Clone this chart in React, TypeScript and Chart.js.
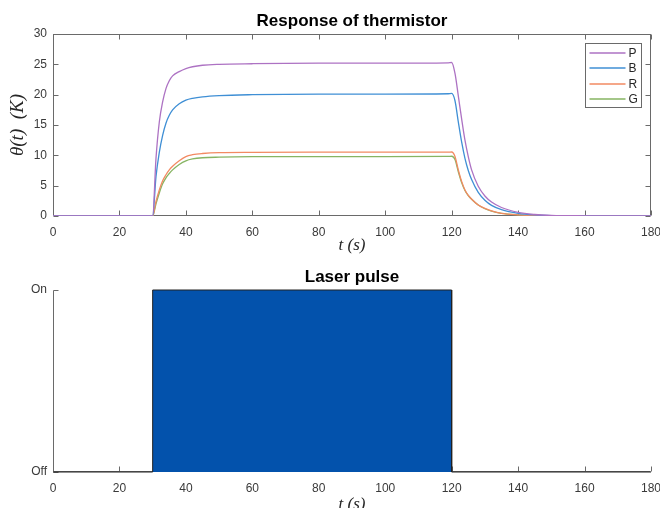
import React, { useEffect, useRef } from "react";
import { Chart, registerables } from "chart.js";

Chart.register(...registerables);

// ---------- data ----------
const timeS = [0, 30, 31, 32, 33, 34, 35, 36, 38, 40, 42, 45, 50, 60, 80, 100, 119, 120, 121, 122, 123, 124, 125, 126, 128, 130, 132, 135, 140, 145, 150, 160, 180];
const seriesP = [0, 0, 9.5, 15.5, 18.8, 21, 22.3, 23.1, 23.8, 24.3, 24.6, 24.85, 25.0, 25.1, 25.2, 25.2, 25.25, 25.3, 23.5, 19.8, 16.0, 12.5, 9.8, 7.6, 4.9, 3.3, 2.3, 1.4, 0.6, 0.25, 0.1, 0.03, 0];
const seriesB = [0, 0, 6.5, 10.5, 13.3, 15.3, 16.6, 17.5, 18.5, 19.1, 19.4, 19.65, 19.85, 20.0, 20.1, 20.1, 20.15, 20.2, 19.0, 15.5, 12.2, 9.5, 7.5, 6.0, 3.9, 2.6, 1.75, 1.05, 0.45, 0.18, 0.07, 0.02, 0];
const seriesR = [0, 0, 2.4, 4.3, 5.8, 6.8, 7.6, 8.2, 9.1, 9.8, 10.1, 10.3, 10.45, 10.5, 10.52, 10.53, 10.54, 10.55, 9.8, 7.6, 5.7, 4.3, 3.4, 2.8, 1.8, 1.25, 0.85, 0.45, 0.2, 0.08, 0.03, 0.01, 0];
const seriesG = [0, 0, 2.0, 3.8, 5.3, 6.3, 7.0, 7.6, 8.5, 9.1, 9.4, 9.6, 9.7, 9.78, 9.8, 9.8, 9.82, 9.85, 9.3, 7.3, 5.5, 4.2, 3.35, 2.75, 1.8, 1.2, 0.8, 0.45, 0.2, 0.08, 0.03, 0.01, 0];
const seriesLabels = ["P", "B", "R", "G"];
const seriesColors = ["#ad72c3", "#3f8fd5", "#f28a62", "#86b462"];

const pulseTimes = [0, 30, 30, 120, 120, 180];
const pulseState = [0, 0, 1, 1, 0, 0];
const pulseTickLabels = ["Off", "On"];

const topTitle = "Response of thermistor";
const bottomTitle = "Laser pulse";
const xTitle = "t (s)";
const yTitle = "θ(t)  (K)";

// ---------- styles ----------
const SANS = "'Liberation Sans', Arial, sans-serif";
const SERIF = "'Liberation Serif', 'Times New Roman', serif";
const AXIS_COLOR = "#6a6a6a";
const TEXT_COLOR = "#3a3a3a";
const TICK_LEN = 5;

function line(ctx: CanvasRenderingContext2D, x1: number, y1: number, x2: number, y2: number) {
  ctx.beginPath();
  ctx.moveTo(x1, y1);
  ctx.lineTo(x2, y2);
  ctx.stroke();
}

const boxFramePlugin = {
  id: "boxFrame",
  beforeDatasetsDraw(chart: any) {
    const { ctx, chartArea: a, scales } = chart;
    ctx.save();
    ctx.strokeStyle = AXIS_COLOR;
    ctx.lineWidth = 1;
    const L = Math.round(a.left) + 0.5, R = Math.round(a.right) - 0.5;
    const T = Math.round(a.top) + 0.5, B = Math.round(a.bottom) - 0.5;
    ctx.strokeRect(L, T, R - L, B - T);
    scales.x.ticks.forEach((t: any) => {
      const px = Math.round(scales.x.getPixelForValue(t.value)) + 0.5;
      line(ctx, px, B, px, B - TICK_LEN);
      line(ctx, px, T, px, T + TICK_LEN);
    });
    scales.y.ticks.forEach((t: any) => {
      const py = Math.round(scales.y.getPixelForValue(t.value)) + 0.5;
      line(ctx, L, py, L + TICK_LEN, py);
      line(ctx, R, py, R - TICK_LEN, py);
    });
    ctx.restore();
  },
};

const openFramePlugin = {
  id: "openFrame",
  beforeDatasetsDraw(chart: any) {
    const { ctx, chartArea: a, scales } = chart;
    ctx.save();
    ctx.strokeStyle = AXIS_COLOR;
    ctx.lineWidth = 1;
    const L = Math.round(a.left) + 0.5, R = Math.round(a.right) - 0.5;
    const T = Math.round(a.top) + 0.5, B = Math.round(a.bottom) - 0.5;
    line(ctx, L, T, L, B);
    line(ctx, L, B, R, B);
    scales.x.ticks.forEach((t: any) => {
      const px = Math.round(scales.x.getPixelForValue(t.value)) + 0.5;
      line(ctx, px, B, px, B - TICK_LEN);
    });
    scales.y.ticks.forEach((t: any) => {
      const py = Math.round(scales.y.getPixelForValue(t.value)) + 0.5;
      line(ctx, L, py, L + TICK_LEN, py);
    });
    ctx.restore();
  },
};

const boxLegendPlugin = {
  id: "boxLegend",
  afterDraw(chart: any) {
    const { ctx, chartArea: a } = chart;
    const left = Math.round(a.right) - 66 + 0.5;
    const top = Math.round(a.top) + 9 + 0.5;
    const w = 56, h = 64;
    ctx.save();
    ctx.fillStyle = "#ffffff";
    ctx.fillRect(left, top, w, h);
    ctx.strokeStyle = AXIS_COLOR;
    ctx.lineWidth = 1;
    ctx.strokeRect(left, top, w, h);
    ctx.font = `12px ${SANS}`;
    ctx.textBaseline = "middle";
    ctx.textAlign = "left";
    chart.data.datasets.forEach((ds: any, i: number) => {
      const y = Math.round(top + 9.5 + i * 15.3);
      ctx.strokeStyle = ds.borderColor;
      ctx.lineWidth = 1.4;
      line(ctx, left + 4, y, left + 40, y);
      ctx.fillStyle = "#262626";
      ctx.fillText(ds.label, left + 43, y + 0.5);
    });
    ctx.restore();
  },
};

const tickFont = { family: SANS, size: 12 };
const axisTitleFont = { family: SERIF, size: 17, style: "italic" as const };

const fitX = (h: number) => (s: any) => {
  s.height = h;
  s.paddingLeft = 0;
  s.paddingRight = 0;
};
const fitY = (s: any) => {
  s.width = 53;
  s.paddingTop = 0;
  s.paddingBottom = 0;
};

export default function App() {
  const topRef = useRef<HTMLCanvasElement | null>(null);
  const botRef = useRef<HTMLCanvasElement | null>(null);

  useEffect(() => {
    const allSeries = [seriesP, seriesB, seriesR, seriesG];
    const topChart = new Chart(topRef.current as HTMLCanvasElement, {
      type: "line",
      data: {
        datasets: allSeries.map((s, i) => ({
          label: seriesLabels[i],
          data: timeS.map((t, j) => ({ x: t, y: s[j] })),
          borderColor: seriesColors[i],
          backgroundColor: seriesColors[i],
          borderWidth: 1.3,
          pointRadius: 0,
          cubicInterpolationMode: "monotone" as const,
          fill: false,
        })),
      },
      options: {
        animation: false,
        responsive: false,
        devicePixelRatio: 1,
        layout: { padding: { left: 0, right: 9, top: 0, bottom: 0 } },
        plugins: {
          legend: { display: false },
          tooltip: { enabled: false },
          title: {
            display: true,
            text: topTitle,
            fullSize: false,
            color: "#000000",
            font: { family: SANS, size: 17, weight: "bold" },
            padding: { top: 10.8, bottom: 2.8 },
          },
        },
        scales: {
          x: {
            type: "linear",
            min: 0,
            max: 180,
            grid: { display: false, drawTicks: false },
            border: { display: false },
            ticks: { stepSize: 20, font: tickFont, color: TEXT_COLOR, padding: 9, maxRotation: 0 },
            title: { display: true, text: xTitle, font: axisTitleFont, color: "#262626", padding: { top: 0, bottom: 2.5 } },
            afterFit: fitX(42),
          },
          y: {
            type: "linear",
            min: 0,
            max: 30,
            grid: { display: false, drawTicks: false },
            border: { display: false },
            ticks: { stepSize: 5, font: tickFont, color: TEXT_COLOR, padding: 6 },
            title: { display: true, text: yTitle, font: { ...axisTitleFont, size: 19 }, color: "#262626", padding: { top: 7, bottom: 0 } },
            afterFit: fitY,
          },
        },
      } as any,
      plugins: [boxFramePlugin, boxLegendPlugin],
    });

    const botChart = new Chart(botRef.current as HTMLCanvasElement, {
      type: "line",
      data: {
        datasets: [
          {
            label: "pulse",
            data: pulseTimes.map((t, j) => ({ x: t, y: pulseState[j] })),
            borderColor: "#222222",
            backgroundColor: "#0352ac",
            borderWidth: 1,
            pointRadius: 0,
            tension: 0,
            fill: "origin",
            clip: false,
          } as any,
        ],
      },
      options: {
        animation: false,
        responsive: false,
        devicePixelRatio: 1,
        layout: { padding: { left: 0, right: 9, top: 0, bottom: 0 } },
        plugins: {
          legend: { display: false },
          tooltip: { enabled: false },
          title: {
            display: true,
            text: bottomTitle,
            fullSize: false,
            color: "#000000",
            font: { family: SANS, size: 17, weight: "bold" },
            padding: { top: 8.8, bottom: 2.8 },
          },
        },
        scales: {
          x: {
            type: "linear",
            min: 0,
            max: 180,
            grid: { display: false, drawTicks: false },
            border: { display: false },
            ticks: { stepSize: 20, font: tickFont, color: TEXT_COLOR, padding: 9, maxRotation: 0 },
            title: { display: true, text: xTitle, font: axisTitleFont, color: "#262626", padding: { top: 0, bottom: 4.8 } },
            afterFit: fitX(48),
          },
          y: {
            type: "linear",
            min: 0,
            max: 1,
            grid: { display: false, drawTicks: false },
            border: { display: false },
            ticks: {
              stepSize: 1,
              font: { family: SANS, size: 12 },
              color: TEXT_COLOR,
              padding: 6,
              callback: (v: any) => pulseTickLabels[Number(v)] ?? "",
            },
            afterFit: fitY,
          },
        },
      } as any,
      plugins: [openFramePlugin],
    });

    return () => {
      topChart.destroy();
      botChart.destroy();
    };
  }, []);

  return (
    <div style={{ position: "fixed", left: 0, top: 0, width: 660, height: 508, overflow: "hidden", background: "#ffffff" }}>
      <canvas ref={topRef} width={660} height={258} style={{ position: "absolute", left: 0, top: 0, width: 660, height: 258 }} />
      <canvas ref={botRef} width={660} height={262} style={{ position: "absolute", left: 0, top: 258, width: 660, height: 262 }} />
    </div>
  );
}
